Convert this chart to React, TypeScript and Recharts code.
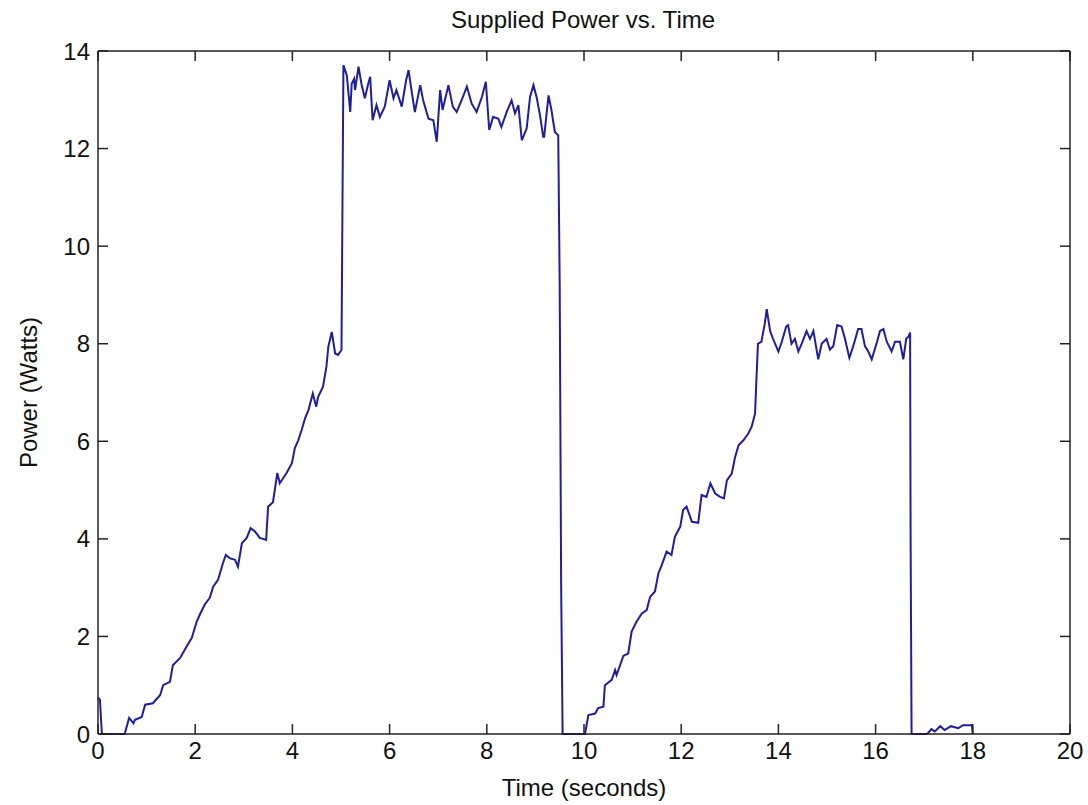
import { LineChart, Line, XAxis, YAxis } from 'recharts'

// [seconds, watts]
const startup: [number, number][] = [
  [0, 0.75], [0.04, 0.7], [0.08, 0], [0.55, 0],
]

const ramp1: [number, number][] = [
  [0.59, 0.15], [0.64, 0.33], [0.73, 0.22], [0.76, 0.29], [0.9, 0.35], [0.97, 0.6],
  [1.13, 0.63], [1.28, 0.8], [1.34, 1.0], [1.48, 1.07], [1.54, 1.41], [1.69, 1.56],
  [1.82, 1.79], [1.93, 1.97], [2.03, 2.3], [2.1, 2.46], [2.2, 2.66], [2.3, 2.79],
  [2.37, 3.02], [2.47, 3.16], [2.57, 3.5], [2.63, 3.67], [2.72, 3.6], [2.82, 3.57],
  [2.88, 3.43], [2.96, 3.91], [3.06, 4.02], [3.14, 4.22], [3.23, 4.15], [3.33, 4.02],
  [3.46, 3.98], [3.5, 4.66], [3.6, 4.75], [3.69, 5.35], [3.74, 5.14], [3.88, 5.35],
  [3.99, 5.55], [4.05, 5.86], [4.12, 6.02], [4.19, 6.23], [4.26, 6.47], [4.33, 6.64],
  [4.42, 6.98], [4.49, 6.71], [4.53, 6.91], [4.63, 7.12], [4.7, 7.53], [4.74, 7.94],
  [4.81, 8.24], [4.88, 7.8], [4.94, 7.77], [5.01, 7.87], [5.03, 10.8], [5.05, 13.71],
]

const plateau1: [number, number][] = [
  [5.12, 13.5], [5.19, 12.75], [5.22, 13.33], [5.27, 13.43], [5.29, 13.2], [5.36, 13.68],
  [5.42, 13.33], [5.49, 13.03], [5.56, 13.33], [5.6, 13.47], [5.65, 12.58], [5.73, 12.89],
  [5.8, 12.65], [5.9, 12.86], [6.0, 13.4], [6.08, 13.03], [6.14, 13.2], [6.25, 12.86],
  [6.34, 13.4], [6.39, 13.61], [6.45, 13.2], [6.52, 12.75], [6.63, 13.3], [6.69, 12.99],
  [6.8, 12.61], [6.9, 12.58], [6.97, 12.14], [7.04, 13.2], [7.09, 12.79], [7.21, 13.3],
  [7.3, 12.86], [7.38, 12.75], [7.48, 12.99], [7.59, 13.27], [7.69, 12.92], [7.79, 12.75],
  [7.9, 13.06], [7.98, 13.37], [8.05, 12.38], [8.13, 12.65], [8.24, 12.61], [8.3, 12.44],
  [8.41, 12.75], [8.51, 12.99], [8.58, 12.72], [8.65, 12.89], [8.72, 12.17], [8.82, 12.41],
  [8.89, 13.06], [8.96, 13.3], [9.03, 13.03], [9.1, 12.65], [9.16, 12.24], [9.18, 12.24],
  [9.27, 13.09], [9.33, 12.79], [9.4, 12.34], [9.47, 12.27], [9.5, 9.2], [9.53, 3.0],
  [9.56, 0], [10.02, 0],
]

const ramp2: [number, number][] = [
  [10.06, 0.22], [10.09, 0.39], [10.23, 0.42], [10.29, 0.53], [10.4, 0.56], [10.43, 1.0],
  [10.57, 1.11], [10.64, 1.31], [10.67, 1.21], [10.81, 1.6], [10.91, 1.65], [10.98, 2.1],
  [11.08, 2.3], [11.19, 2.47], [11.29, 2.54], [11.36, 2.81], [11.46, 2.92], [11.53, 3.29],
  [11.6, 3.46], [11.7, 3.74], [11.8, 3.67], [11.87, 4.04], [11.98, 4.25], [12.04, 4.59],
  [12.11, 4.66], [12.22, 4.35], [12.35, 4.33], [12.42, 4.9], [12.52, 4.86], [12.6, 5.14],
  [12.7, 4.93], [12.8, 4.86], [12.88, 4.83], [12.94, 5.2], [13.04, 5.34], [13.11, 5.68],
  [13.18, 5.92], [13.28, 6.02], [13.38, 6.16], [13.45, 6.3], [13.52, 6.57], [13.55, 7.32],
  [13.58, 8.0],
]

const plateau2: [number, number][] = [
  [13.65, 8.04], [13.72, 8.41], [13.76, 8.71], [13.83, 8.26], [13.89, 8.1], [14.0, 7.84],
  [14.07, 8.04], [14.16, 8.35], [14.2, 8.38], [14.27, 8.0], [14.34, 8.1], [14.41, 7.84],
  [14.48, 8.0], [14.58, 8.26], [14.65, 8.1], [14.72, 8.26], [14.82, 7.68], [14.89, 8.0],
  [14.99, 8.1], [15.06, 7.88], [15.13, 7.95], [15.21, 8.38], [15.3, 8.35], [15.37, 8.1],
  [15.46, 7.71], [15.54, 7.95], [15.64, 8.3], [15.71, 8.3], [15.78, 7.95], [15.85, 7.84],
  [15.92, 7.68], [16.03, 8.04], [16.09, 8.26], [16.16, 8.3], [16.23, 8.04], [16.33, 7.84],
  [16.4, 8.04], [16.5, 8.04], [16.57, 7.68], [16.63, 8.1], [16.68, 8.15], [16.71, 8.23],
]

const tail: [number, number][] = [
  [16.72, 4.1], [16.74, 0], [17.05, 0], [17.08, 0.02], [17.15, 0.1], [17.22, 0.05],
  [17.33, 0.16], [17.42, 0.08], [17.55, 0.16], [17.7, 0.12], [17.8, 0.18], [17.98, 0.18],
  [18.0, 0],
]

const xTicks = [0, 2, 4, 6, 8, 10, 12, 14, 16, 18, 20]
const yTicks = [0, 2, 4, 6, 8, 10, 12, 14]

const data = [...startup, ...ramp1, ...plateau1, ...ramp2, ...plateau2, ...tail].map(([t, p]) => ({ t, p }))

const font = { fontSize: 24, fill: '#111', fontFamily: 'Liberation Sans, Arial, sans-serif' }
const axisLine = { stroke: '#222', strokeWidth: 1.5 }

export default function App() {
  return (
    <div style={{ position: 'absolute', left: 0, top: 0, width: 1088, height: 805, background: '#fff' }}>
      <LineChart width={1088} height={805} data={data} margin={{ top: 50, right: 17, bottom: 0, left: 0 }}>
        <XAxis
          dataKey="t"
          type="number"
          domain={[0, 20]}
          ticks={xTicks}
          height={71}
          tickSize={-10}
          tickMargin={18}
          tick={font}
          axisLine={axisLine}
          tickLine={axisLine}
          label={{ value: 'Time (seconds)', position: 'insideBottom', offset: 9, style: font }}
        />
        <XAxis
          xAxisId="top"
          orientation="top"
          dataKey="t"
          type="number"
          domain={[0, 20]}
          ticks={xTicks}
          height={1}
          tickSize={-10}
          tickFormatter={() => ''}
          axisLine={axisLine}
          tickLine={axisLine}
        />
        <YAxis
          domain={[0, 14]}
          ticks={yTicks}
          width={98}
          tickSize={-10}
          tickMargin={18}
          tick={font}
          axisLine={axisLine}
          tickLine={axisLine}
          label={{ value: 'Power (Watts)', angle: -90, position: 'insideLeft', offset: 28, style: { ...font, textAnchor: 'middle' } }}
        />
        <YAxis
          yAxisId="right"
          orientation="right"
          domain={[0, 14]}
          ticks={yTicks}
          width={1}
          tickSize={-10}
          tickFormatter={() => ''}
          axisLine={axisLine}
          tickLine={axisLine}
        />
        <Line type="linear" dataKey="p" stroke="#1f1f9e" strokeWidth={2} dot={false} isAnimationActive={false} />
        <Line
          type="linear"
          dataKey="p"
          xAxisId="top"
          yAxisId="right"
          stroke="none"
          dot={false}
          legendType="none"
          isAnimationActive={false}
        />
        <text x={583} y={28} textAnchor="middle" style={font}>Supplied Power vs. Time</text>
      </LineChart>
    </div>
  )
}
